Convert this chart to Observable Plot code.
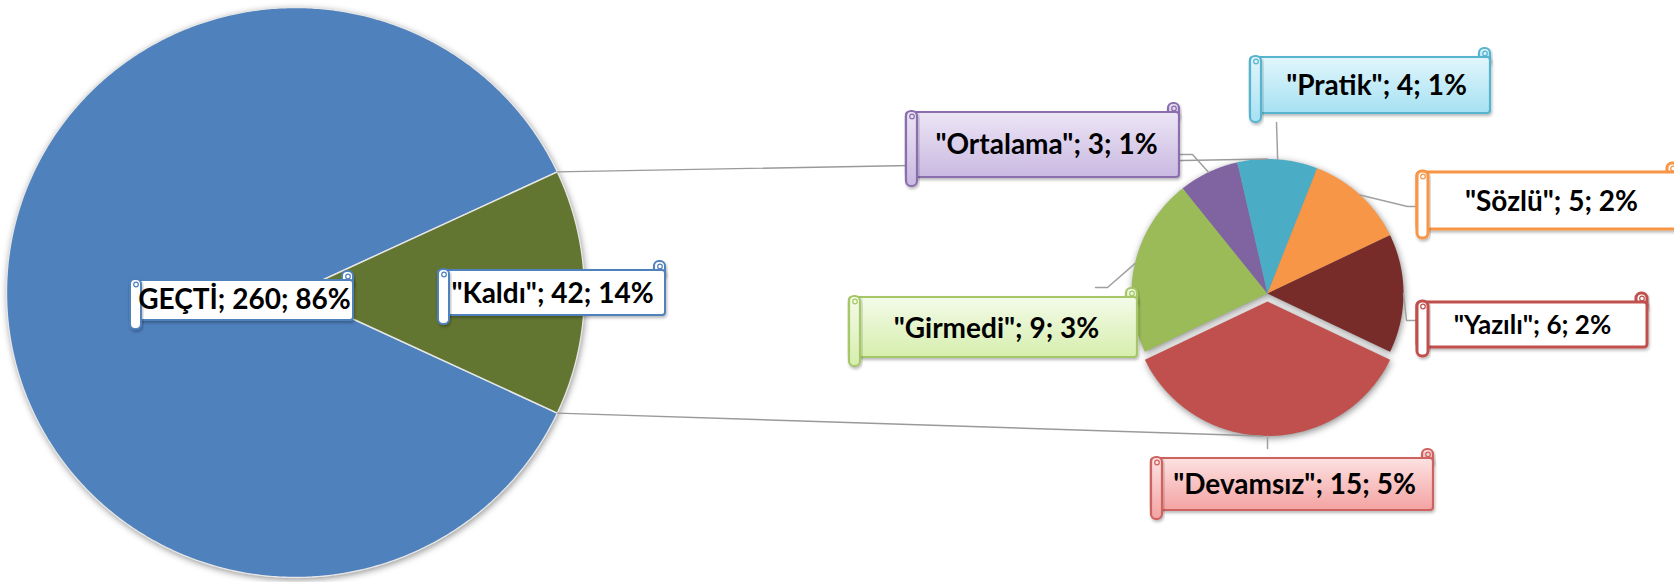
<!DOCTYPE html>
<html>
<head>
<meta charset="utf-8">
<script src="https://cdn.jsdelivr.net/npm/d3@7"></script>
<script src="https://cdn.jsdelivr.net/npm/@observablehq/plot@0.6"></script>
<style>
  html, body { margin: 0; padding: 0; background: #fff; overflow: hidden; }
  #chart svg { display: block; }
</style>
</head>
<body>
<div id="chart"></div>
<script>
// ---------------- data ----------------
const mainCategories = ["GEÇTİ", "Kaldı"];
const mainValues = [260, 42];
const subCategories = ["Devamsız", "Girmedi", "Ortalama", "Pratik", "Sözlü", "Yazılı"];
const subValues = [15, 9, 3, 4, 5, 6];
const quotedCategories = ["Kaldı", "Devamsız", "Girmedi", "Ortalama", "Pratik", "Sözlü", "Yazılı"];

// ---------------- styles / layout ----------------
const sliceColors = {
  "GEÇTİ": "#4F81BD", "Kaldı": "#627631",
  "Devamsız": "#C0504D", "Girmedi": "#9BBB59", "Ortalama": "#8064A2",
  "Pratik": "#4BACC6", "Sözlü": "#F79646", "Yazılı": "#772C2A"
};
const W = 1674, H = 582;
const mainPie = {cx: 295, cy: 292, rx: 289, ry: 285};
const subPie = {cx: 1267, cy: 293, rx: 136, ry: 134.5, explode: 8};
const explodedSlice = "Devamsız";

const boxLayout = {
  "GEÇTİ":    {x0: 130,  x1: 353,  y0: 280, y1: 320, tx: 244,  ty: 300, fs: 28},
  "Kaldı":    {x0: 438,  x1: 665,  y0: 270, y1: 315, tx: 552,  ty: 294, fs: 28},
  "Ortalama": {x0: 906,  x1: 1179, y0: 112, y1: 177, tx: 1046, ty: 145, fs: 28},
  "Pratik":   {x0: 1250, x1: 1490, y0: 57,  y1: 113, tx: 1376, ty: 86,  fs: 28},
  "Sözlü":    {x0: 1417, x1: 1678, y0: 172, y1: 229, tx: 1551, ty: 202, fs: 28},
  "Yazılı":   {x0: 1417, x1: 1647, y0: 302, y1: 347, tx: 1532, ty: 325, fs: 26},
  "Devamsız": {x0: 1151, x1: 1433, y0: 458, y1: 510, tx: 1294, ty: 485, fs: 28},
  "Girmedi":  {x0: 849,  x1: 1137, y0: 297, y1: 357, tx: 996,  ty: 329, fs: 28}
};
const boxStyles = {
  "GEÇTİ":    {fill: "#FFFFFF", stroke: "#4F81BD", sw: 2},
  "Kaldı":    {fill: "#FFFFFF", stroke: "#4F81BD", sw: 2},
  "Ortalama": {fill: "url(#gOrt)", stroke: "#8A6EAD", sw: 2.2},
  "Pratik":   {fill: "url(#gPra)", stroke: "#56B4CE", sw: 2.2},
  "Sözlü":    {fill: "#FFFFFF", stroke: "#F79646", sw: 3},
  "Yazılı":   {fill: "#FFFFFF", stroke: "#C0504D", sw: 3},
  "Devamsız": {fill: "url(#gDev)", stroke: "#CD625F", sw: 2.2},
  "Girmedi":  {fill: "url(#gGir)", stroke: "#A5C768", sw: 2.2}
};
const leaderElbows = {
  "Girmedi":  [[1107, 287], [1095, 287]],
  "Ortalama": [[1192, 154], [1179, 154]],
  "Pratik":   [[1276, 122]],
  "Sözlü":    [[1407, 206], [1417, 206]],
  "Yazılı":   [[1406, 320], [1417, 320]],
  "Devamsız": [[1267, 448]]
};

// ---------------- geometry from values ----------------
const total = d3.sum(mainValues);
const splitIndex = 1; // "Kaldı" is broken out into the second pie
const kA = 2 * Math.PI * mainValues[splitIndex] / total;
const mainStart = Math.PI / 2 + kA / 2;
const mainArcs = d3.pie().sort(null).startAngle(mainStart).endAngle(mainStart + 2 * Math.PI)(mainValues);
const subTotal = d3.sum(subValues);
const dA = 2 * Math.PI * subValues[0] / subTotal;
const subStart = Math.PI - dA / 2;
const subArcs = d3.pie().sort(null).startAngle(subStart).endAngle(subStart + 2 * Math.PI)(subValues);

function pt(pie, a, dx = 0, dy = 0) {
  return [pie.cx + dx + pie.rx * Math.sin(a), pie.cy + dy - pie.ry * Math.cos(a)];
}
function wedge(pie, arc, name, dx = 0, dy = 0) {
  const n = Math.max(4, Math.ceil((arc.endAngle - arc.startAngle) / (Math.PI / 360)));
  const pts = [{name, x: pie.cx + dx, y: pie.cy + dy}];
  for (let i = 0; i <= n; i++) {
    const a = arc.startAngle + (arc.endAngle - arc.startAngle) * i / n;
    const [x, y] = pt(pie, a, dx, dy);
    pts.push({name, x, y});
  }
  pts.push({name, x: pie.cx + dx, y: pie.cy + dy});
  return pts;
}
function explodeOffset(arc, name) {
  if (name !== explodedSlice) return [0, 0];
  const m = (arc.startAngle + arc.endAngle) / 2;
  return [subPie.explode * Math.sin(m), -subPie.explode * Math.cos(m)];
}

const mainWedges = mainArcs.flatMap((a, i) => wedge(mainPie, a, mainCategories[i]));
const subWedges = subArcs.flatMap((a, i) => {
  const [dx, dy] = explodeOffset(a, subCategories[i]);
  return wedge(subPie, a, subCategories[i], dx, dy);
});

// connector lines between the two pies
const kArc = mainArcs[splitIndex];
const [ux, uy] = pt(mainPie, kArc.startAngle);
const [lx, ly] = pt(mainPie, kArc.endAngle);
const exIdx = subCategories.indexOf(explodedSlice);
const [edx, edy] = explodeOffset(subArcs[exIdx], explodedSlice);
const connectors = [
  {k: "top", x: ux, y: uy}, {k: "top", x: subPie.cx, y: subPie.cy - subPie.ry},
  {k: "bottom", x: lx, y: ly}, {k: "bottom", x: subPie.cx - 5, y: subPie.cy + edy + subPie.ry}
];

// leader lines from slice midpoints to labels
const leaders = subArcs.flatMap((a, i) => {
  const name = subCategories[i];
  const [dx, dy] = explodeOffset(a, name);
  const [sx, sy] = pt(subPie, (a.startAngle + a.endAngle) / 2, dx, dy);
  return [{name, x: sx, y: sy}, ...leaderElbows[name].map(([x, y]) => ({name, x, y}))];
});

// labels
const labelText = (name, value) =>
  `${quotedCategories.includes(name) ? `"${name}"` : name}; ${value}; ${Math.round(value / total * 100)}%`;
const labels = [
  ...mainCategories.map((name, i) => ({name, text: labelText(name, mainValues[i])})),
  ...subCategories.map((name, i) => ({name, text: labelText(name, subValues[i])}))
].map(d => ({...d, ...boxLayout[d.name]}));

function labelMarks(d) {
  const s = boxStyles[d.name];
  const common = {fill: s.fill, stroke: s.stroke, strokeWidth: s.sw, ariaDescription: "labelbox"};
  return [
    Plot.rect([d], {x1: d => d.x1 - 11, x2: "x1", y1: d => d.y0 - 9, y2: d => d.y0 + 8, rx: 5, ...common}),
    Plot.rect([d], {x1: "x0", x2: "x1", y1: "y0", y2: "y1", rx: 3, ...common}),
    Plot.rect([d], {x1: "x0", x2: d => d.x0 + 11, y1: d => d.y0 - 1, y2: d => d.y1 + 9, rx: 5, ...common}),
    Plot.dot([d], {x: d => d.x1 - 5.5, y: d => d.y0 - 4, r: 2.3, fill: "none", stroke: s.stroke, strokeWidth: 1.2}),
    Plot.dot([d], {x: d => d.x0 + 5.5, y: d => d.y0 + 4, r: 2.3, fill: "none", stroke: s.stroke, strokeWidth: 1.2})
  ];
}

const allNames = [...mainCategories, ...subCategories];

const chart = Plot.plot({
  width: W, height: H,
  marginTop: 0, marginRight: 0, marginBottom: 0, marginLeft: 0,
  x: {domain: [0, W], range: [0, W], axis: null},
  y: {domain: [0, H], range: [0, H], axis: null},
  color: {domain: allNames, range: allNames.map(n => sliceColors[n])},
  style: {background: "#fff"},
  marks: [
    Plot.line([...mainWedges, ...subWedges], {x: d => d.x + 1, y: d => d.y + 2, z: "name", fill: "#000", fillOpacity: 0.45, stroke: "none", ariaDescription: "shadow"}),
    Plot.line(mainWedges, {x: "x", y: "y", z: "name", fill: "name", stroke: "#E6E6E6", strokeWidth: 1.4, strokeLinejoin: "round"}),
    Plot.line(subWedges, {x: "x", y: "y", z: "name", fill: "name", stroke: "none"}),
    Plot.line(connectors, {x: "x", y: "y", z: "k", stroke: "#9A9A9A", strokeWidth: 1.4}),
    Plot.line(leaders, {x: "x", y: "y", z: "name", stroke: "#A0A0A0", strokeWidth: 1.5}),
    ...labels.flatMap(labelMarks),
    Plot.text(labels, {x: "tx", y: "ty", text: "text", fontSize: 28, fontWeight: "bold", fontFamily: "Lato, 'Open Sans', sans-serif", fill: "#000", filter: d => d.fs === 28}),
    Plot.text(labels, {x: "tx", y: "ty", text: "text", fontSize: 26, fontWeight: "bold", fontFamily: "Lato, 'Open Sans', sans-serif", fill: "#000", filter: d => d.fs === 26})
  ]
});

// gradient & filter definitions
const svg = d3.select(chart);
const defs = svg.insert("defs", ":first-child");
const grads = {gOrt: ["#ECE5F5", "#CAB9E1"], gPra: ["#E2F6FB", "#A6E1F3"], gDev: ["#FDE2E2", "#F3A3A2"], gGir: ["#F4FBE9", "#D6EEAD"]};
for (const [id, [c0, c1]] of Object.entries(grads)) {
  const g = defs.append("linearGradient").attr("id", id).attr("x1", 0).attr("y1", 0).attr("x2", 0).attr("y2", 1);
  g.append("stop").attr("offset", "0%").attr("stop-color", c0);
  g.append("stop").attr("offset", "100%").attr("stop-color", c1);
}
defs.append("filter").attr("id", "blur").attr("x", "-10%").attr("y", "-10%").attr("width", "120%").attr("height", "120%")
  .append("feGaussianBlur").attr("stdDeviation", 3.5);
const ds = defs.append("filter").attr("id", "ds").attr("x", "-10%").attr("y", "-20%").attr("width", "130%").attr("height", "160%");
ds.append("feDropShadow").attr("dx", 1).attr("dy", 2).attr("stdDeviation", 1.5).attr("flood-color", "#000").attr("flood-opacity", 0.28);
svg.selectAll('g[aria-description="shadow"]').attr("filter", "url(#blur)");
svg.selectAll('g[aria-description="labelbox"]').attr("filter", "url(#ds)");

document.getElementById("chart").appendChild(chart);
</script>
</body>
</html>
